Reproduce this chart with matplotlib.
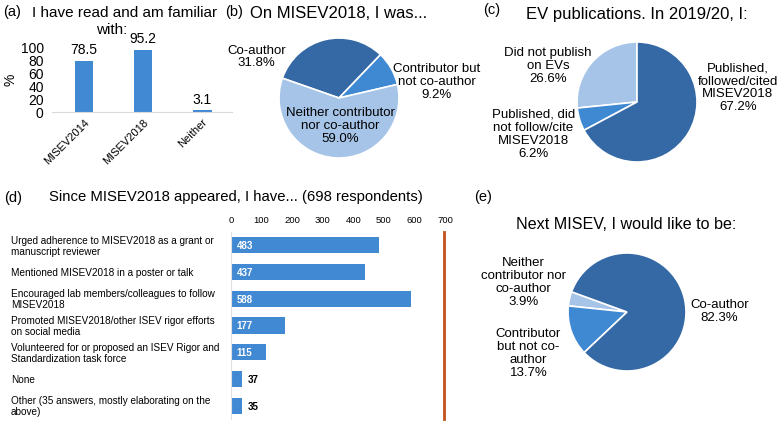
import matplotlib
matplotlib.use('Agg')
import matplotlib.pyplot as plt
from matplotlib.transforms import blended_transform_factory

plt.rcParams['font.family'] = ['Liberation Sans', 'DejaVu Sans']

# (a) familiarity
fam_labels = ['MISEV2014', 'MISEV2018', 'Neither']
fam_values = [78.5, 95.2, 3.1]

# (b) role on MISEV2018
role_labels = ['Co-author', 'Contributor but\nnot co-author', 'Neither contributor\nnor co-author']
role_values = [31.8, 9.2, 59.0]

# (c) EV publications
pub_labels = ['Did not publish\non EVs', 'Published, did\nnot follow/cite\nMISEV2018',
              'Published,\nfollowed/cited\nMISEV2018']
pub_values = [26.6, 6.2, 67.2]

# (d) actions since MISEV2018
act_labels = ['Urged adherence to MISEV2018 as a grant or\nmanuscript reviewer',
              'Mentioned MISEV2018 in a poster or talk',
              'Encouraged lab members/colleagues to follow\nMISEV2018',
              'Promoted MISEV2018/other ISEV rigor efforts\non social media',
              'Volunteered for or proposed an ISEV Rigor and\nStandardization task force',
              'None',
              'Other (35 answers, mostly elaborating on the\nabove)']
act_values = [483, 437, 588, 177, 115, 37, 35]
respondents = 698

# (e) next MISEV
next_labels = ['Neither\ncontributor nor\nco-author', 'Contributor\nbut not co-\nauthor', 'Co-author']
next_values = [3.9, 13.7, 82.3]

DARK = '#3569a5'
MID = '#3f88d2'
LIGHT = '#a6c4e8'
BAR = '#4289d4'
ORANGE = '#c4501c'

W, H = 780, 427
fig = plt.figure(figsize=(W / 100, H / 100), dpi=100)


def box(x0, y0, x1, y1):
    # pixel box (top-left origin) -> figure fraction rect
    return [x0 / W, 1 - y1 / H, (x1 - x0) / W, (y1 - y0) / H]


def ftext(x, y, s, **kw):
    fig.text(x / W, 1 - y / H, s, **kw)


# ---- (a) ----
ax = fig.add_axes(box(52, 47.5, 232, 113))
ax.bar(range(3), fam_values, width=0.31, color=BAR)
for i, v in enumerate(fam_values):
    ax.annotate(f'{v}', (i, v), xytext=(0, 3), textcoords='offset points',
                ha='center', va='bottom', fontsize=10)
ax.set_xlim(-0.54, 2.5)
ax.set_ylim(0, 100)
ax.set_yticks([0, 20, 40, 60, 80, 100])
ax.tick_params(axis='y', length=0, labelsize=10, pad=6)
ax.set_xticks(range(3))
ax.set_xticklabels(fam_labels, rotation=45, ha='right', rotation_mode='anchor', fontsize=8)
ax.tick_params(axis='x', length=0, pad=3)
for s in ['top', 'right', 'left']:
    ax.spines[s].set_visible(False)
ax.spines['bottom'].set_color('#d9d9d9')
ax.set_ylabel('%', fontsize=10, labelpad=2)
ax.patch.set_alpha(0)
ftext(3, 12, '(a)', fontsize=10.5, va='center')
ftext(125, 13, 'I have read and am familiar', fontsize=11, va='center', ha='center')
ftext(112, 30, 'with:', fontsize=11, va='center', ha='center')


def pie_axes(cx, cy, r):
    a = fig.add_axes(box(cx - r, cy - r, cx + r, cy + r))
    return a


def finish_pie(a):
    a.set_xlim(-1, 1)
    a.set_ylim(-1, 1)
    a.set_aspect('equal')
    a.axis('off')


wp = dict(edgecolor='white', linewidth=1.2)

# ---- (b) ----
ax = pie_axes(339, 99, 60)
ax.pie(role_values, colors=[DARK, MID, LIGHT], startangle=160.7, counterclock=False,
       wedgeprops=wp)
finish_pie(ax)
pos = [(-1.37, 0.70), (1.63, 0.28), (0.02, -0.45)]
for (lx, ly), lab, v in zip(pos, role_labels, role_values):
    ax.text(lx, ly, f'{lab}\n{v:.1f}%', ha='center', va='center', fontsize=9.5,
            linespacing=1.1)
ftext(225, 12, '(b)', fontsize=10.5, va='center')
ftext(250, 14, 'On MISEV2018, I was...', fontsize=12, va='center')

# ---- (c) ----
ax = pie_axes(637, 103, 60)
ax.pie(pub_values, colors=[LIGHT, MID, DARK], startangle=90, counterclock=True,
       wedgeprops=wp)
finish_pie(ax)
pos = [(-1.48, 0.62), (-1.73, -0.52), (1.68, 0.25)]
for (lx, ly), lab, v in zip(pos, pub_labels, pub_values):
    ax.text(lx, ly, f'{lab}\n{v:.1f}%', ha='center', va='center', fontsize=9.5,
            linespacing=1.1)
ftext(483, 10, '(c)', fontsize=10.5, va='center')
ftext(637, 15, 'EV publications. In 2019/20, I:', fontsize=12, va='center', ha='center')

# ---- (d) ----
ax = fig.add_axes(box(231, 233, 445, 420))
n = len(act_values)
ax.barh(range(n), act_values, height=0.6, color=BAR)
ax.set_xlim(0, 700)
ax.set_ylim(n - 0.5, -0.5)
ax.xaxis.tick_top()
ax.set_xticks(range(0, 701, 100))
ax.tick_params(axis='x', length=0, labelsize=6.8, pad=6)
ax.set_yticks([])
for s in ['top', 'right', 'bottom']:
    ax.spines[s].set_visible(False)
ax.spines['left'].set_color('#e0e0e0')
ax.axvline(respondents, color=ORANGE, lw=2, clip_on=False)
for i, v in enumerate(act_values):
    if v > 100:
        ax.annotate(str(v), (0, i), xytext=(4, 0), textcoords='offset points',
                    ha='left', va='center', color='white', fontsize=7, fontweight='bold')
    else:
        ax.annotate(str(v), (v, i), xytext=(4, 0), textcoords='offset points',
                    ha='left', va='center', color='black', fontsize=7, fontweight='bold')
tr = blended_transform_factory(fig.transFigure, ax.transData)
for i, lab in enumerate(act_labels):
    ax.text(11 / W, i, lab, transform=tr, ha='left', va='center', fontsize=7.2,
            linespacing=1.15)
ftext(4, 198, '(d)', fontsize=10.5, va='center')
ftext(236, 197, 'Since MISEV2018 appeared, I have... (698 respondents)', fontsize=10.7,
      va='center', ha='center')

# ---- (e) ----
ax = pie_axes(627, 313, 59)
ax.pie(next_values, colors=[LIGHT, MID, DARK], startangle=160, counterclock=True,
       wedgeprops=wp)
finish_pie(ax)
pos = [(-1.76, 0.52), (-1.67, -0.69), (1.57, 0.03)]
for (lx, ly), lab, v in zip(pos, next_labels, next_values):
    ax.text(lx, ly, f'{lab}\n{v:.1f}%', ha='center', va='center', fontsize=9.5,
            linespacing=1.1)
ftext(474, 197, '(e)', fontsize=10.5, va='center')
ftext(626, 225, 'Next MISEV, I would like to be:', fontsize=11.6, va='center', ha='center')

fig.savefig('out.png', dpi=100)
